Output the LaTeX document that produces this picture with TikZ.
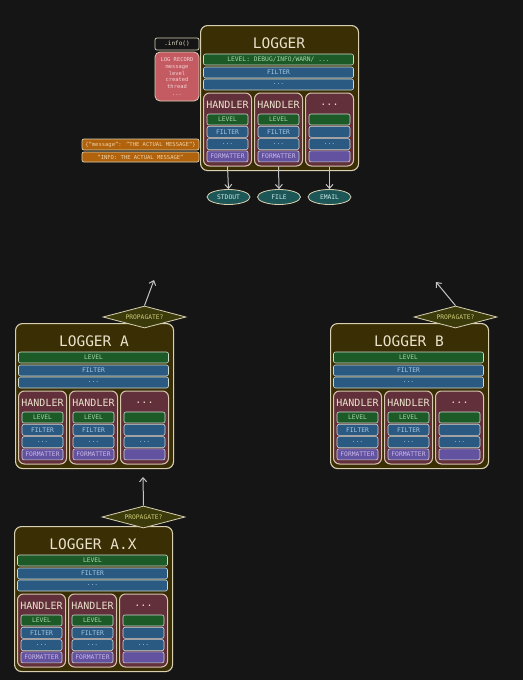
\documentclass[tikz,border=0pt]{standalone}
\usepackage{fontspec}
\setmainfont{DejaVu Sans Mono}
\usetikzlibrary{shapes.geometric,arrows.meta}
\definecolor{bg}{HTML}{151515}
\definecolor{lgfill}{HTML}{3A2E05}
\definecolor{lgborder}{HTML}{D8D0B0}
\definecolor{ttlcol}{HTML}{EAE2CA}
\definecolor{hfill}{HTML}{62303A}
\definecolor{hborder}{HTML}{D8C6B0}
\definecolor{barborder}{HTML}{D0D8D0}
\definecolor{grfill}{HTML}{1C5A28}
\definecolor{grtext}{HTML}{A8D8A8}
\definecolor{blfill}{HTML}{2A5A82}
\definecolor{bltext}{HTML}{A8C8E2}
\definecolor{pufill}{HTML}{6252A0}
\definecolor{putext}{HTML}{CBBBEA}
\definecolor{elfill}{HTML}{1D5657}
\definecolor{eltext}{HTML}{C8E8E8}
\definecolor{dmfill}{HTML}{3A3A0A}
\definecolor{dmtext}{HTML}{CFCB78}
\definecolor{orfill}{HTML}{B0620C}
\definecolor{ortext}{HTML}{F0D2A6}
\definecolor{lrfill}{HTML}{C45A62}
\definecolor{lrtext}{HTML}{F2D4D4}
\definecolor{arcol}{HTML}{C4C4C4}
\tikzset{
  loggerbox/.style={draw=lgborder, fill=lgfill, line width=1.1pt, rounded corners=7pt,
    minimum width=158pt, minimum height=145pt, inner sep=0pt, anchor=north west},
  ttl/.style={text=ttlcol, font=\fontsize{14.5}{16}\selectfont, inner sep=0pt},
  htl/.style={text=ttlcol, font=\fontsize{10}{11}\selectfont, inner sep=0pt},
  handlerbox/.style={draw=hborder, fill=hfill, line width=1pt, rounded corners=6pt,
    minimum width=48pt, minimum height=73pt, inner sep=0pt},
  barbase/.style={draw=barborder, line width=0.6pt, rounded corners=2pt, minimum height=11pt,
    inner sep=0pt, font=\fontsize{6.3}{7}\selectfont},
  gbar/.style={barbase, fill=grfill, text=grtext},
  bbar/.style={barbase, fill=blfill, text=bltext},
  pbar/.style={barbase, fill=pufill, text=putext},
  outel/.style={ellipse, draw=lgborder, fill=elfill, text=eltext, line width=0.8pt,
    minimum width=43pt, minimum height=15pt, inner sep=0pt, font=\fontsize{6.3}{7}\selectfont},
  propdm/.style={diamond, draw=lgborder, fill=dmfill, text=dmtext, line width=0.8pt, aspect=3.8,
    minimum width=83pt, minimum height=22pt, inner sep=0pt, font=\fontsize{6.3}{7}\selectfont},
  orbar/.style={draw=lgborder, fill=orfill, text=ortext, line width=0.7pt, rounded corners=2pt,
    minimum width=117pt, inner sep=0pt, font=\fontsize{5.5}{6}\selectfont},
  arr/.style={draw=arcol, line width=1pt, -{Straight Barb[length=4pt,width=7pt]}}
}
\newcommand\hndl[7]{%
  \node[handlerbox] (#1-h#2) at ([shift={(#3,104.5)}]#1.north west) {};
  \node[htl] (#1-h#2-t) at ([shift={(#3,80)}]#1.north west) {#4};
  \node[gbar, minimum width=41pt] (#1-h#2-lv) at ([shift={(#3,94.5)}]#1.north west) {#5};
  \node[bbar, minimum width=41pt] (#1-h#2-fi) at ([shift={(#3,106.8)}]#1.north west) {#6};
  \node[bbar, minimum width=41pt] (#1-h#2-dt) at ([shift={(#3,119.1)}]#1.north west) {...};
  \node[pbar, minimum width=41pt] (#1-h#2-fm) at ([shift={(#3,131.4)}]#1.north west) {#7};
}
\newcommand\lgblock[5]{%
  \node[loggerbox] (#1) at (#2,#3) {};
  \node[ttl] (#1-t) at ([shift={(79,18)}]#1.north west) {#4};
  \node[gbar, minimum width=150pt] (#1-lv) at ([shift={(78.5,34.5)}]#1.north west) {#5};
  \node[bbar, minimum width=150pt] (#1-fi) at ([shift={(78.5,47.5)}]#1.north west) {FILTER};
  \node[bbar, minimum width=150pt] (#1-dt) at ([shift={(78.5,59.5)}]#1.north west) {...};
  \hndl{#1}{1}{27.5}{HANDLER}{LEVEL}{FILTER}{FORMATTER}
  \hndl{#1}{2}{78.5}{HANDLER}{LEVEL}{FILTER}{FORMATTER}
  \hndl{#1}{3}{129.5}{...}{}{}{}
}
\begin{document}
\begin{tikzpicture}[x=1pt, y=-1pt]
  \path[use as bounding box, fill=bg] (0,0) rectangle (523,680);

  % top logger
  \lgblock{L}{200}{25}{LOGGER}{LEVEL: DEBUG/INFO/WARN/ ...}
  \node[outel] (stdout) at (228.5,197) {STDOUT};
  \node[outel] (file) at (279,197) {FILE};
  \node[outel] (email) at (329.5,197) {EMAIL};
  \draw[arr] (L-h1.south) -- (stdout.north);
  \draw[arr] (L-h2.south) -- (file.north);
  \draw[arr] (L-h3.south) -- (email.north);

  % info call and log record
  \node[draw=lgborder, fill=bg, line width=0.7pt, rounded corners=2pt, minimum width=44pt,
        minimum height=12pt, inner sep=0pt, text=ttlcol, font=\fontsize{6}{7}\selectfont]
        (info) at (177,44) {.info()};
  \node[draw=lgborder, fill=lrfill, line width=0.8pt, rounded corners=5pt, minimum width=44pt,
        minimum height=49pt, inner sep=0pt, text=lrtext, align=center,
        font=\fontsize{5.4}{6.7}\selectfont] (rec) at (177,76.5)
        {LOG RECORD\\message\\level\\created\\thread\\...};

  % formatted outputs
  \node[orbar, minimum height=11pt] (json) at (140.5,144.5) {\{"message": "THE ACTUAL MESSAGE"\}};
  \node[orbar, minimum height=10pt] (plain) at (140.5,157) {"INFO: THE ACTUAL MESSAGE"};

  % logger A
  \lgblock{LA}{15}{323}{LOGGER A}{LEVEL}
  \node[propdm] (pA) at (144.5,317) {PROPAGATE?};
  \coordinate (pAup) at (154,280);
  \draw[arr] (pA.north) -- (pAup);

  % logger B
  \lgblock{LB}{330}{323}{LOGGER B}{LEVEL}
  \node[propdm] (pB) at (455.5,317) {PROPAGATE?};
  \coordinate (pBup) at (436,282);
  \draw[arr] (pB.north) -- (pBup);

  % logger A.X
  \lgblock{LAX}{14}{526}{LOGGER A.X}{LEVEL}
  \node[propdm] (pAX) at (143.5,517) {PROPAGATE?};
  \coordinate (pAXup) at (143,477);
  \draw[arr] (pAX.north) -- (pAXup);
\end{tikzpicture}
\end{document}
